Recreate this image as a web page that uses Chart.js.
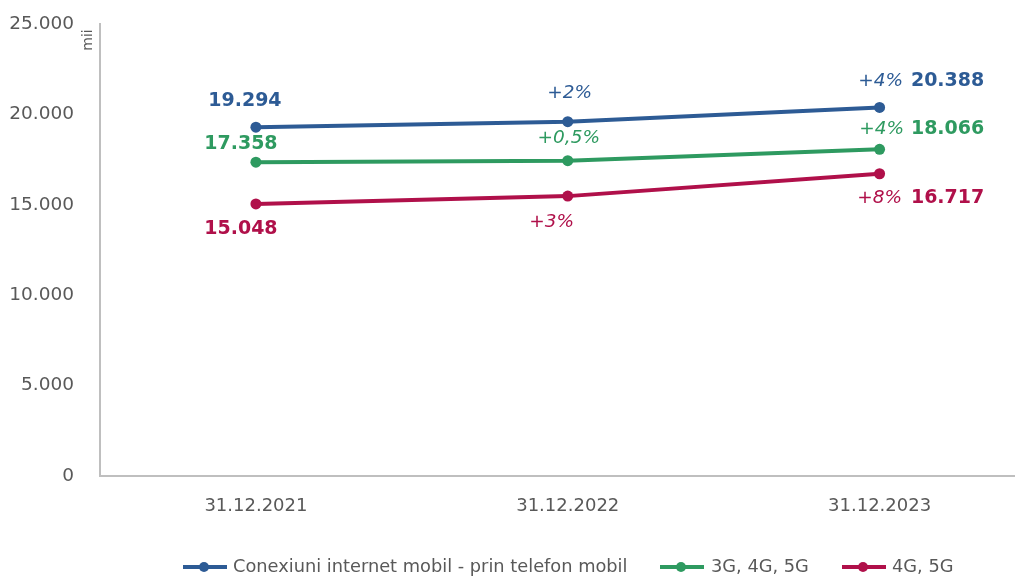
<!DOCTYPE html>
<html>
<head>
<meta charset="utf-8">
<script src="https://cdn.jsdelivr.net/npm/chart.js@4.4.1/dist/chart.umd.min.js"></script>
<style>
  html, body { margin: 0; padding: 0; background: #fff; overflow: hidden; }
  #wrap { width: 1041px; height: 579px; position: relative; }
</style>
</head>
<body>
<div id="wrap"><canvas id="lineChart"></canvas></div>
<script>
const categories = ['31.12.2021', '31.12.2022', '31.12.2023'];
const seriesNames = ['Conexiuni internet mobil - prin telefon mobil', '3G, 4G, 5G', '4G, 5G'];
const mobileTotal = [19294, 19600, 20388];
const g345 = [17358, 17440, 18066];
const g45 = [15048, 15480, 16717];
// label texts: first point shows value, middle shows growth, last shows growth + value
const mobileLabels = ['19.294', '+2%', ['+4%', '20.388']];
const g345Labels = ['17.358', '+0,5%', ['+4%', '18.066']];
const g45Labels = ['15.048', '+3%', ['+8%', '16.717']];
const yTicks = [0, 5000, 10000, 15000, 20000, 25000];

const COLORS = ['#2D5B95', '#2E9A60', '#B0104A'];
const FONT = "'DejaVu Sans', sans-serif";

// offsets of each label relative to its point [dx, dy]
const labelOffsets = [
  [[-11, -26], [2, -28], [1, -26]],
  [[-15, -18], [1, -22], [2, -20]],
  [[-15, 25], [-16, 26], [0, 24]]
];

function drawLabel(ctx, text, x, y, bold, color) {
  ctx.font = bold ? 'bold 19px ' + FONT : 'italic 18.5px ' + FONT;
  ctx.fillStyle = color;
  ctx.textAlign = 'center';
  ctx.textBaseline = 'middle';
  ctx.fillText(text, x, y);
}

const labelPlugin = {
  id: 'pointLabels',
  afterDatasetsDraw(chart) {
    const ctx = chart.ctx;
    ctx.save();
    chart.data.datasets.forEach((ds, i) => {
      const meta = chart.getDatasetMeta(i);
      meta.data.forEach((pt, j) => {
        const lbl = ds.pointLabels[j];
        const [dx, dy] = labelOffsets[i][j];
        if (Array.isArray(lbl)) {
          drawLabel(ctx, lbl[0], pt.x + dx, pt.y + dy, false, ds.borderColor);
          drawLabel(ctx, lbl[1], pt.x + 68, pt.y + dy, true, ds.borderColor);
        } else {
          drawLabel(ctx, lbl, pt.x + dx, pt.y + dy, j === 0, ds.borderColor);
        }
      });
    });
    // unit label
    ctx.translate(88, 40);
    ctx.rotate(-Math.PI / 2);
    ctx.font = '14px ' + FONT;
    ctx.fillStyle = '#595959';
    ctx.textAlign = 'center';
    ctx.textBaseline = 'middle';
    ctx.fillText('mii', 0, 0);
    ctx.restore();
  }
};

// legend drawn by hand: line with dot + text
const legendItems = [
  { x: 183, textX: 233 },
  { x: 660, textX: 711 },
  { x: 842, textX: 892 }
];
const legendPlugin = {
  id: 'lineLegend',
  afterDraw(chart) {
    const ctx = chart.ctx;
    const y = 567;
    ctx.save();
    chart.data.datasets.forEach((ds, i) => {
      const it = legendItems[i];
      ctx.strokeStyle = ds.borderColor;
      ctx.lineWidth = 4;
      ctx.beginPath();
      ctx.moveTo(it.x, y);
      ctx.lineTo(it.x + 44, y);
      ctx.stroke();
      ctx.fillStyle = ds.borderColor;
      ctx.beginPath();
      ctx.arc(it.x + 21, y, 5, 0, Math.PI * 2);
      ctx.fill();
      ctx.font = '17.8px ' + FONT;
      ctx.fillStyle = '#595959';
      ctx.textAlign = 'left';
      ctx.textBaseline = 'middle';
      ctx.fillText(ds.label, it.textX, y);
    });
    ctx.restore();
  }
};

function makeDataset(i, data, labels) {
  return {
    label: seriesNames[i],
    data: data,
    pointLabels: labels,
    borderColor: COLORS[i],
    backgroundColor: COLORS[i],
    borderWidth: 4,
    pointRadius: 5.5,
    pointBorderWidth: 0,
    pointHoverRadius: 5.5,
    tension: 0
  };
}

new Chart(document.getElementById('lineChart'), {
  type: 'line',
  data: {
    labels: categories,
    datasets: [
      makeDataset(0, mobileTotal, mobileLabels),
      makeDataset(1, g345, g345Labels),
      makeDataset(2, g45, g45Labels)
    ]
  },
  options: {
    responsive: true,
    maintainAspectRatio: false,
    animation: false,
    layout: { padding: { top: 24, right: 0, bottom: 0, left: 0 } },
    plugins: {
      legend: { display: false },
      tooltip: { enabled: false }
    },
    scales: {
      x: {
        offset: true,
        grid: { display: false, drawTicks: false },
        border: { display: true, color: '#BFBFBF', width: 2 },
        ticks: { color: '#595959', font: { family: FONT, size: 18 }, padding: 20, maxRotation: 0 },
        afterFit(scale) { scale.height = 103; }
      },
      y: {
        min: 0,
        max: 25000,
        afterBuildTicks(scale) { scale.ticks = yTicks.map(v => ({ value: v })); },
        grid: { display: false, drawTicks: false },
        border: { display: true, color: '#BFBFBF', width: 2 },
        ticks: {
          color: '#595959',
          font: { family: FONT, size: 18.5 },
          padding: 26,
          callback: v => v === 0 ? '0' : v.toLocaleString('de-DE')
        },
        afterFit(scale) { scale.width = 100; scale.paddingTop = 0; }
      }
    }
  },
  plugins: [labelPlugin, legendPlugin]
});
</script>
</body>
</html>
